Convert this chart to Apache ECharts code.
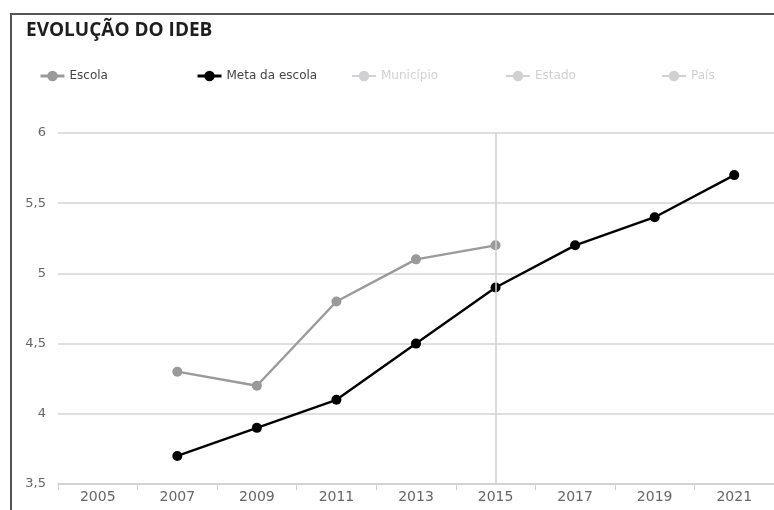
<!DOCTYPE html>
<html><head><meta charset="utf-8">
<script src="https://cdn.jsdelivr.net/npm/echarts@6/dist/echarts.min.js"></script>
<style>html,body{margin:0;padding:0;background:#fff}#c{width:774px;height:510px}</style>
</head><body><div id="c"></div>
<script>
const years = ['2005','2007','2009','2011','2013','2015','2017','2019','2021'];
const escola = [null, 4.3, 4.2, 4.8, 5.1, 5.2, null, null, null];
const metaEscola = [null, 3.7, 3.9, 4.1, 4.5, 4.9, 5.2, 5.4, 5.7];
const municipio = [];
const estado = [];
const pais = [];
const seriesNames = ['Escola','Meta da escola','Município','Estado','País'];
const yTicks = {min: 3.5, max: 6, interval: 0.5};
const markedYear = '2015';

const FONT = '"Open Sans", "DejaVu Sans", sans-serif';
const FONT2 = '"DejaVu Sans", sans-serif';
const chart = echarts.init(document.getElementById('c'), null, {renderer:'canvas'});
const legendLefts = [34, 191, 346, 500, 656];
const disabled = {'Município':false,'Estado':false,'País':false};
const legends = seriesNames.map((n, i) => ({
  data: [n], left: legendLefts[i], top: 65, itemWidth: 24, itemHeight: 13,
  selected: disabled, inactiveColor: '#d0d0d0',
  lineStyle: {width: 3},
  textStyle: {fontFamily: FONT2, fontSize: 12, color: '#444'}
}));
const fmt = v => String(v).replace('.', ',');
chart.setOption({
  animation: false,
  title: {text: 'EVOLUÇÃO DO IDEB', left: 21, top: 16,
    textStyle: {fontFamily: FONT, fontSize: 19, fontWeight: 'bold', color: '#1e1e1e'}},
  graphic: [{type: 'rect', shape: {x: 11, y: 14, width: 820, height: 600},
    style: {fill: null, stroke: '#555', lineWidth: 2}, silent: true}],
  legend: legends,
  grid: {left: 58, right: -8, top: 133, bottom: 26, containLabel: false},
  xAxis: {type: 'category', data: years, boundaryGap: true,
    axisLine: {lineStyle: {color: '#cfcfcf', width: 1.5}},
    axisTick: {show: true, length: 6, lineStyle: {color: '#cfcfcf'}},
    axisLabel: {fontFamily: FONT2, fontSize: 14, color: '#666', margin: 6},
    splitLine: {show: false}},
  yAxis: {type: 'value', min: yTicks.min, max: yTicks.max, interval: yTicks.interval,
    axisLine: {show: false}, axisTick: {show: false},
    axisLabel: {fontFamily: FONT2, fontSize: 13, color: '#666', margin: 12, formatter: fmt,
      verticalAlign: 'middle'},
    splitLine: {lineStyle: {color: '#d4d4d4', width: 1.5}}},
  series: [
    {name: 'Escola', type: 'line', data: escola, color: '#9a9a9a',
      symbol: 'circle', symbolSize: 10, lineStyle: {width: 2.4, color: '#9a9a9a'},
      itemStyle: {color: '#9a9a9a'}, connectNulls: false,
      markLine: {silent: true, symbol: 'none', label: {show: false},
        lineStyle: {color: '#cfcfcf', width: 1.5, type: 'solid'},
        data: [{xAxis: markedYear}]}},
    {name: 'Meta da escola', type: 'line', data: metaEscola, color: '#000',
      symbol: 'circle', symbolSize: 10, lineStyle: {width: 2.4, color: '#000'},
      itemStyle: {color: '#000'}, z: 3},
    {name: 'Município', type: 'line', data: municipio, color: '#bbb', symbol: 'circle', symbolSize: 10},
    {name: 'Estado', type: 'line', data: estado, color: '#bbb', symbol: 'circle', symbolSize: 10},
    {name: 'País', type: 'line', data: pais, color: '#bbb', symbol: 'circle', symbolSize: 10}
  ]
});
</script></body></html>
